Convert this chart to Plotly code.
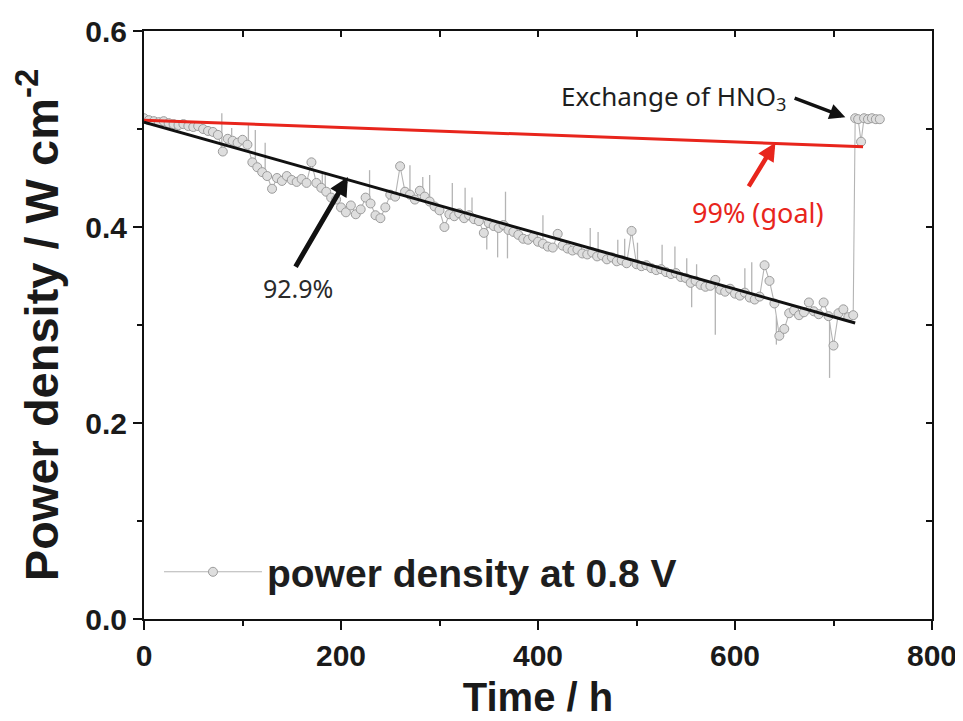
import numpy as np
import plotly.graph_objects as go

# ---------------- data ----------------
time_h = [0, 5, 10, 15, 20, 25, 30, 35, 40, 45, 50, 55, 60, 65, 70, 75, 80, 85, 90, 95,
          100, 105, 110, 115, 120, 125, 130, 135, 140, 145, 150, 155, 160, 165, 170, 175, 180, 185, 190, 195,
          200, 205, 210, 215, 220, 225, 230, 235, 240, 245, 250, 255, 260, 265, 270, 275, 280, 285, 290, 295,
          300, 305, 310, 315, 320, 325, 330, 335, 340, 345, 350, 355, 360, 365, 370, 375, 380, 385, 390, 395,
          400, 405, 410, 415, 420, 425, 430, 435, 440, 445, 450, 455, 460, 465, 470, 475, 480, 485, 490, 495,
          500, 505, 510, 515, 520, 525, 530, 535, 540, 545, 550, 555, 560, 565, 570, 575, 580, 585, 590, 595,
          600, 605, 610, 615, 620, 625, 630, 635, 640, 645, 650, 655, 660, 665, 670, 675, 680, 685, 690, 695,
          700, 705, 710, 715, 720, 722, 725, 728, 731, 735, 739, 743, 747]
power = [0.511, 0.509, 0.508, 0.507, 0.508, 0.506, 0.505, 0.504, 0.505, 0.503, 0.502, 0.503, 0.500, 0.498, 0.497, 0.494, 0.477, 0.490, 0.488, 0.486,
         0.489, 0.484, 0.466, 0.461, 0.456, 0.452, 0.439, 0.450, 0.447, 0.452, 0.448, 0.446, 0.449, 0.445, 0.466, 0.445, 0.440, 0.436, 0.430, 0.428,
         0.420, 0.415, 0.422, 0.413, 0.418, 0.430, 0.424, 0.412, 0.409, 0.420, 0.433, 0.431, 0.462, 0.436, 0.433, 0.428, 0.437, 0.431, 0.426, 0.421,
         0.417, 0.400, 0.413, 0.411, 0.414, 0.409, 0.412, 0.408, 0.406, 0.394, 0.404, 0.401, 0.399, 0.402, 0.397, 0.395, 0.392, 0.388, 0.387, 0.390,
         0.385, 0.383, 0.380, 0.379, 0.393, 0.381, 0.378, 0.376, 0.377, 0.373, 0.372, 0.374, 0.370, 0.371, 0.367, 0.369, 0.365, 0.366, 0.363, 0.396,
         0.362, 0.360, 0.361, 0.358, 0.356, 0.357, 0.354, 0.352, 0.353, 0.349, 0.348, 0.343, 0.345, 0.341, 0.339, 0.340, 0.346, 0.336, 0.334, 0.337,
         0.332, 0.330, 0.333, 0.328, 0.326, 0.329, 0.361, 0.345, 0.322, 0.289, 0.296, 0.312, 0.315, 0.310, 0.313, 0.323, 0.314, 0.311, 0.323, 0.309,
         0.279, 0.312, 0.316, 0.308, 0.310, 0.511, 0.510, 0.487, 0.511, 0.510, 0.511, 0.510, 0.510]

# short excursions of the recorded trace (drawn as line only, no symbol)
spike_time = [79, 89, 106, 113, 123, 181, 184, 229, 270, 283, 290, 313, 326, 333, 348, 359, 367, 369,
              405, 453, 461, 481, 488, 501, 526, 539, 551, 556, 561, 580, 610, 617, 642, 696]
spike_power = [0.516, 0.501, 0.504, 0.499, 0.486, 0.456, 0.456, 0.458, 0.463, 0.451, 0.453, 0.445, 0.440, 0.430,
               0.377, 0.369, 0.436, 0.368, 0.412, 0.399, 0.395, 0.387, 0.388, 0.384, 0.382, 0.380, 0.368, 0.318,
               0.362, 0.290, 0.358, 0.364, 0.280, 0.246]

# linear trend lines
trend_time = [0, 722]
trend_power = [0.507, 0.302]
goal_time = [0, 730]
goal_power = [0.509, 0.482]

x_ticks = [0, 200, 400, 600, 800]
y_ticks = [0.0, 0.2, 0.4, 0.6]

# ---------------- figure ----------------
# spikes leave the trace and return at the same time stamp
spike_base = np.interp(spike_time, time_h, power)
sx, sy = [], []
for t, b, v in zip(spike_time, spike_base, spike_power):
    sx += [t, t, None]
    sy += [float(b), v, None]

GRAY_LINE = "#b4b4b4"
FONT = "Liberation Sans, Arial, sans-serif"
fig = go.Figure()

fig.add_trace(go.Scatter(x=sx, y=sy, mode="lines", connectgaps=False,
                         line=dict(color=GRAY_LINE, width=1.3), showlegend=False, hoverinfo="skip"))
fig.add_trace(go.Scatter(x=time_h, y=power, mode="lines+markers",
                         name="power density at 0.8 V",
                         line=dict(color=GRAY_LINE, width=1.1),
                         marker=dict(symbol="circle", size=9, color="#dedede",
                                     line=dict(color="#9c9c9c", width=1))))
fig.add_trace(go.Scatter(x=goal_time, y=goal_power, mode="lines",
                         line=dict(color="#e8251c", width=3), showlegend=False))
fig.add_trace(go.Scatter(x=trend_time, y=trend_power, mode="lines",
                         line=dict(color="#111111", width=3), showlegend=False))

# invisible trace to carry the inward-ticked top / right axes
fig.add_trace(go.Scatter(x=[0], y=[0], xaxis="x2", yaxis="y2", mode="markers",
                         marker=dict(opacity=0), showlegend=False, hoverinfo="skip"))

ann_font = "Noto Sans"
annotations = [
    # 92.9% arrow and text
    dict(x=207, y=0.451, ax=153, ay=0.358, xref="x", yref="y", axref="x", ayref="y",
         text="", showarrow=True, arrowhead=2, arrowsize=0.75, arrowwidth=5, arrowcolor="#111111"),
    dict(x=156, y=0.338, xref="x", yref="y", text="92.9%", showarrow=False,
         font=dict(family=ann_font, size=25, color="#2a2a2a")),
    # 99% goal arrow and text
    dict(x=641, y=0.486, ax=613, ay=0.440, xref="x", yref="y", axref="x", ayref="y",
         text="", showarrow=True, arrowhead=2, arrowsize=0.8, arrowwidth=4.5, arrowcolor="#e8251c"),
    dict(x=623, y=0.415, xref="x", yref="y", text="99% (goal)", showarrow=False,
         font=dict(family=ann_font, size=27, color="#e8251c")),
    # Exchange of HNO3
    dict(x=712, y=0.512, ax=659, ay=0.532, xref="x", yref="y", axref="x", ayref="y",
         text="", showarrow=True, arrowhead=2, arrowsize=0.9, arrowwidth=3.5, arrowcolor="#111111"),
    dict(x=654, y=0.533, xref="x", yref="y", xanchor="right", text="Exchange of HNO<sub>3</sub>",
         showarrow=False, font=dict(family=ann_font, size=26, color="#1e1e1e")),
]

fig.update_layout(
    width=955, height=713,
    margin=dict(l=136, r=31, t=23, b=102),
    paper_bgcolor="white", plot_bgcolor="white",
    annotations=annotations,
    showlegend=True,
    legend=dict(x=0.019, y=0.08, xanchor="left", yanchor="middle",
                bgcolor="rgba(0,0,0,0)", itemwidth=98,
                font=dict(family=FONT, size=39, color="#1e1e1e", weight="bold")),
    xaxis=dict(range=[0, 800], tickvals=x_ticks, ticktext=[str(v) for v in x_ticks],
               showgrid=False, zeroline=False, automargin=False,
               showline=True, linecolor="#111111", linewidth=2, mirror=True,
               ticks="outside", ticklen=9, tickwidth=2, tickcolor="#111111",
               minor=dict(dtick=100, ticks="outside", ticklen=5, tickwidth=2, tickcolor="#111111"),
               tickfont=dict(family=FONT, size=30, color="#1a1a1a", weight="bold"),
               title=dict(text="Time / h", standoff=12,
                          font=dict(family=FONT, size=40, color="#1a1a1a", weight="bold"))),
    yaxis=dict(range=[0, 0.6], tickvals=y_ticks, ticktext=["%.1f" % v for v in y_ticks],
               showgrid=False, zeroline=False, automargin=False,
               showline=True, linecolor="#111111", linewidth=2, mirror=True,
               ticks="outside", ticklen=9, tickwidth=2, tickcolor="#111111",
               minor=dict(dtick=0.1, ticks="outside", ticklen=5, tickwidth=2, tickcolor="#111111"),
               tickfont=dict(family=FONT, size=30, color="#1a1a1a", weight="bold"),
               title=dict(text="Power density / W cm<sup>-2</sup>", standoff=12,
                          font=dict(family=FONT, size=47, color="#1a1a1a", weight="bold"))),
    xaxis2=dict(range=[0, 800], overlaying="x", side="top", dtick=100, ticks="inside",
                ticklen=6, tickwidth=2, tickcolor="#111111", showticklabels=False,
                showgrid=False, zeroline=False, showline=False, automargin=False),
    yaxis2=dict(range=[0, 0.6], overlaying="y", side="right", dtick=0.1, ticks="inside",
                ticklen=6, tickwidth=2, tickcolor="#111111", showticklabels=False,
                showgrid=False, zeroline=False, showline=False, automargin=False),
)

fig.write_html("out.html")
